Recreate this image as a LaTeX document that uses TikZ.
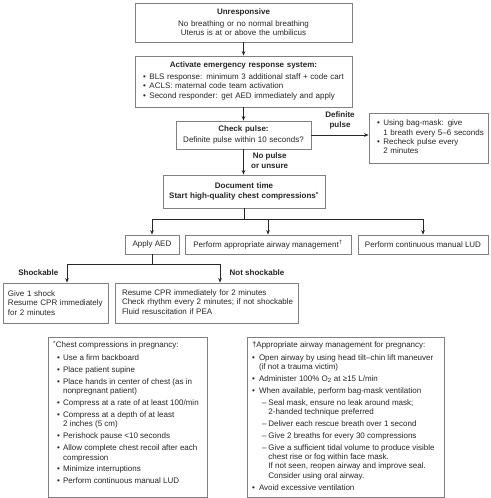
\documentclass[tikz,border=0pt]{standalone}
\usepackage{fontspec}
\setmainfont{Liberation Sans}
\usetikzlibrary{arrows.meta,calc}
\begin{document}
\begin{tikzpicture}[x=1pt,y=-1pt]
\tikzset{
  bx/.style={draw=black!50, line width=0.8pt, inner xsep=4pt, inner ysep=2pt,
    font=\fontsize{8}{9.3}\selectfont, text=black!85},
  arr/.style={draw=black!85, line width=0.7pt, -{Stealth[length=4.5pt,width=3.6pt]}},
  lbl/.style={font=\fontsize{8}{10}\selectfont\bfseries, text=black!85, align=center, inner sep=0pt},
}
\fill[white] (0,0) rectangle (490,498);
\useasboundingbox (0,0) rectangle (490,498);

% boxes
\node[bx, align=center, text width=209pt, minimum height=39pt] (ur) at (243.5,22.5)
  {\textbf{Unresponsive}\\[2.5pt] No breathing or no normal breathing\\ Uterus is at or above the umbilicus};

\node[bx, align=center, text width=209pt, minimum height=51pt] (act) at (243.5,81.5)
  {\textbf{Activate emergency response system:}\\[2.6pt]
   \begin{tabular}[t]{@{}l@{\hspace{3.5pt}}l@{}}
   •&BLS response: minimum 3 additional staff + code cart\\
   •&ACLS: maternal code team activation\\
   •&Second responder: get AED immediately and apply
   \end{tabular}};

\node[bx, align=center, text width=127pt, minimum height=28pt] (cp) at (243.5,135)
  {\textbf{Check pulse:}\\[2.3pt] Definite pulse within 10 seconds?};

\node[bx, align=left, inner xsep=8pt, text width=103pt, minimum height=50pt] (rb) at (428.5,138)
  {\begin{tabular}{@{}l@{\hspace{3.5pt}}l@{}}
   •&Using bag-mask: give\\
    &1 breath every 5–6 seconds\\
   •&Recheck pulse every\\
    &2 minutes
   \end{tabular}};

\node[bx, align=center, text width=154pt, minimum height=33pt] (doc) at (244,191.5)
  {\textbf{Document time}\\[1.4pt] \textbf{Start high-quality chest compressions\textsuperscript{*}}};

\node[bx, minimum width=54pt, minimum height=19pt] (aed) at (152,244.5) {Apply AED};
\node[bx, minimum width=166pt, minimum height=19pt] (aw) at (268,244.5)
  {Perform appropriate airway management\textsuperscript{†}};
\node[bx, minimum width=130pt, minimum height=19pt] (lud) at (423,244.5)
  {Perform continuous manual LUD};

\node[bx, align=left, inner xsep=5pt, text width=95pt, minimum height=40pt] (sh) at (55.5,303)
  {Give 1 shock\\ Resume CPR immediately\\ for 2 minutes};
\node[bx, align=left, inner xsep=7pt, text width=169pt, minimum height=40pt] (ns) at (206.5,303)
  {\begin{tabular}{@{}l@{}}
   Resume CPR immediately for 2 minutes\\
   Check rhythm every 2 minutes; if not shockable\\
   Fluid resuscitation if PEA
   \end{tabular}};

\node[bx, inner xsep=5pt, inner ysep=4pt] (cc) at (127.5,417)
  {\parbox[c][152pt][t]{149pt}{%
   \begin{tabular}[t]{@{}l@{\hspace{3.3pt}}l@{}}
   \multicolumn{2}{@{}l@{}}{\textsuperscript{*}Chest compressions in pregnancy:}\\[3.5pt]
   \hspace{4pt}•&Use a firm backboard\\[2.6pt]
   \hspace{4pt}•&Place patient supine\\[2.6pt]
   \hspace{4pt}•&Place hands in center of chest (as in\\
               &nonpregnant patient)\\[2.6pt]
   \hspace{4pt}•&Compress at a rate of at least 100/min\\[2.6pt]
   \hspace{4pt}•&Compress at a depth of at least\\
               &2 inches (5 cm)\\[2.6pt]
   \hspace{4pt}•&Perishock pause <10 seconds\\[2.6pt]
   \hspace{4pt}•&Allow complete chest recoil after each\\
               &compression\\[2.6pt]
   \hspace{4pt}•&Minimize interruptions\\[2.6pt]
   \hspace{4pt}•&Perform continuous manual LUD
   \end{tabular}}};

\node[bx, inner xsep=5pt, inner ysep=4pt] (am) at (345.5,417)
  {\parbox[c][152pt][t]{187pt}{%
   \begin{tabular}[t]{@{}l@{\hspace{4.2pt}}l@{\hspace{2pt}}l@{}}
   \multicolumn{3}{@{}l@{}}{†Appropriate airway management for pregnancy:}\\[3.5pt]
   •&\multicolumn{2}{@{}l@{}}{Open airway by using head tilt–chin lift maneuver}\\
    &\multicolumn{2}{@{}l@{}}{(if not a trauma victim)}\\[2.6pt]
   •&\multicolumn{2}{@{}l@{}}{Administer 100\% O\textsubscript{2} at ≥15 L/min}\\[2.6pt]
   •&\multicolumn{2}{@{}l@{}}{When available, perform bag-mask ventilation}\\[2.6pt]
    &\hspace{3pt}–&Seal mask, ensure no leak around mask;\\
    & &2-handed technique preferred\\[2.6pt]
    &\hspace{3pt}–&Deliver each rescue breath over 1 second\\[2.6pt]
    &\hspace{3pt}–&Give 2 breaths for every 30 compressions\\[2.6pt]
    &\hspace{3pt}–&Give a sufficient tidal volume to produce visible\\
    & &chest rise or fog within face mask.\\
    & &If not seen, reopen airway and improve seal.\\
    & &Consider using oral airway.\\[2.6pt]
   •&\multicolumn{2}{@{}l@{}}{Avoid excessive ventilation}
   \end{tabular}}};

% labels
\node[lbl] (dp) at (340,120) {Definite\\pulse};
\node[lbl, anchor=west] (np) at (251,161) {No pulse\\or unsure};
\node[lbl, anchor=east] (shl) at (58.5,273) {Shockable};
\node[lbl, anchor=west] (nsl) at (229.5,273) {Not shockable};

% connectors
\draw[arr] (ur) -- (act);
\draw[arr] (act) -- (cp);
\draw[arr] (cp.east) -- (cp.east -| rb.west);
\draw[arr] (cp.south) -- (cp.south |- doc.north);
\coordinate (j1) at (244,219);
\draw[arr] (doc.south) -- (doc.south |- j1) -| (aed.north);
\draw[arr] (doc.south |- j1) -| (lud.north);
\draw[arr] (aw.north |- j1) -- (aw.north);
\coordinate (shx) at (67,264);
\coordinate (nsx) at (220,264);
\draw[arr] (aed.south) |- (shx) -- (shx |- sh.north);
\draw[arr] (aed.south |- shx) -- (nsx) -- (nsx |- ns.north);
\end{tikzpicture}
\end{document}
